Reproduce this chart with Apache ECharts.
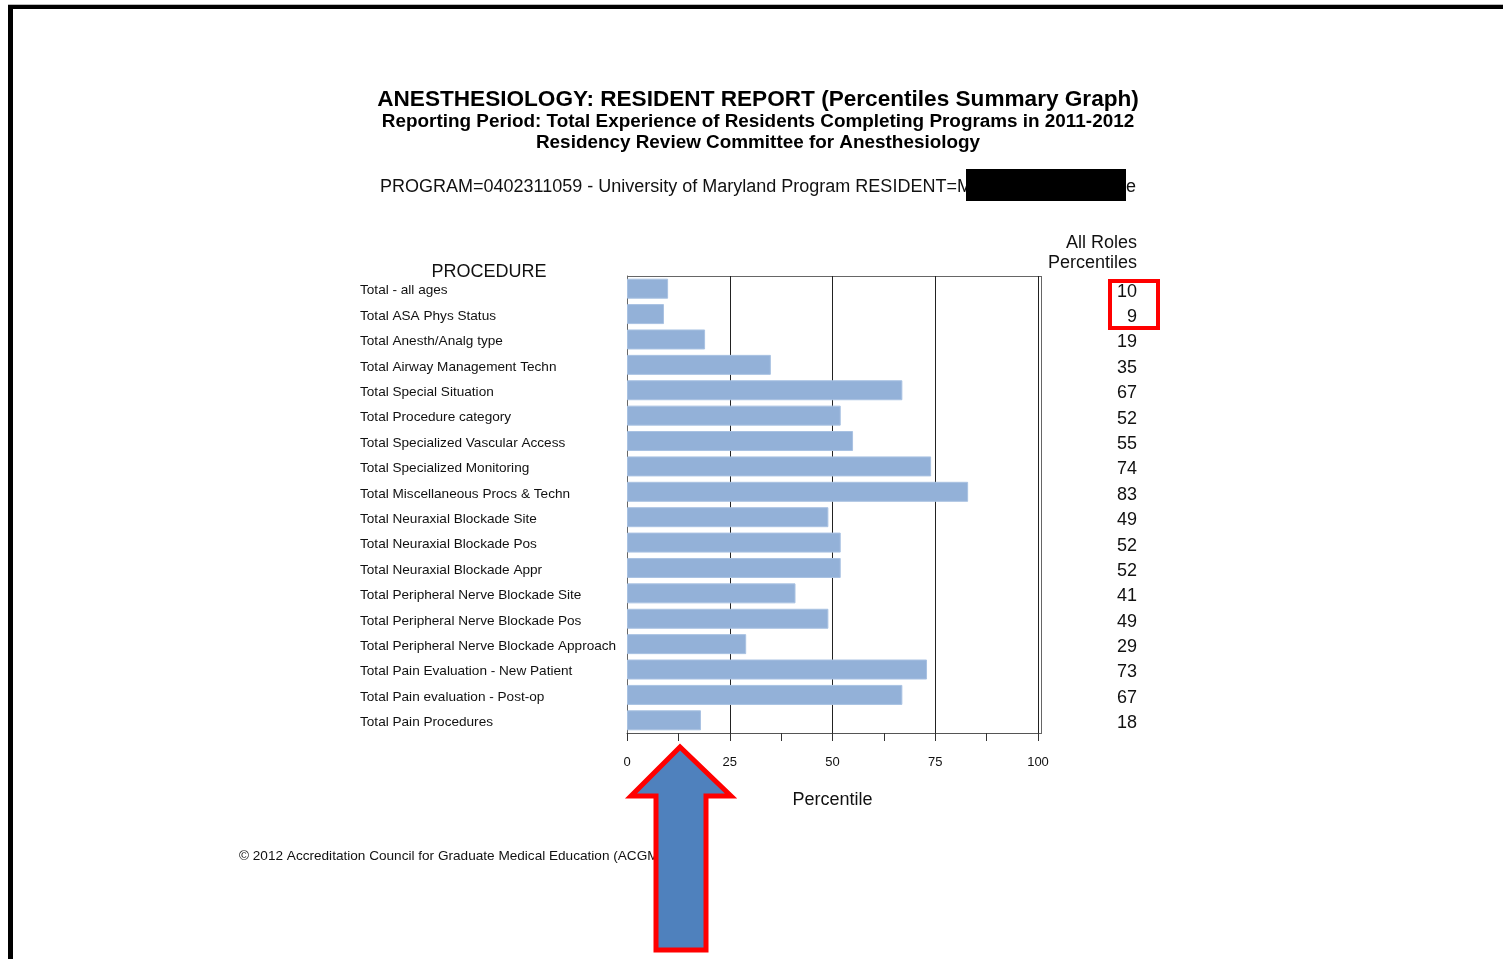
<!DOCTYPE html>
<html>
<head>
<meta charset="utf-8">
<title>Percentiles Summary Graph</title>
<script src="https://cdn.jsdelivr.net/npm/echarts@6/dist/echarts.min.js"></script>
<style>
  html, body { margin: 0; padding: 0; background: #fff; }
  #main { width: 1503px; height: 959px; }
</style>
</head>
<body>
<div id="main"></div>
<script type="text/javascript">
// procedures, top to bottom
var procedures = [
  'Total - all ages',
  'Total ASA Phys Status',
  'Total Anesth/Analg type',
  'Total Airway Management Techn',
  'Total Special Situation',
  'Total Procedure category',
  'Total Specialized Vascular Access',
  'Total Specialized Monitoring',
  'Total Miscellaneous Procs & Techn',
  'Total Neuraxial Blockade Site',
  'Total Neuraxial Blockade Pos',
  'Total Neuraxial Blockade Appr',
  'Total Peripheral Nerve Blockade Site',
  'Total Peripheral Nerve Blockade Pos',
  'Total Peripheral Nerve Blockade Approach',
  'Total Pain Evaluation - New Patient',
  'Total Pain evaluation - Post-op',
  'Total Pain Procedures'
];
// all roles percentiles
var percentiles = [10, 9, 19, 35, 67, 52, 55, 74, 83, 49, 52, 52, 41, 49, 29, 73, 67, 18];
var xTicks = [0, 25, 50, 75, 100];

var FONT = '"Liberation Sans", Arial, Helvetica, sans-serif';
var barColor = '#93b1d8';

var myChart = echarts.init(document.getElementById('main'));

// grid 0 = bars, grid 1 = procedure names, grid 2 = percentile column
var option = {
  backgroundColor: '#fff',
  animation: false,
  grid: [
    { left: 627, top: 276, width: 411, height: 457, show: false },
    { left: 627, top: 278, width: 411, height: 457, show: false },
    { left: 627, top: 279, width: 411, height: 457, show: false }
  ],
  xAxis: [{
    gridIndex: 0,
    type: 'value',
    min: 0, max: 100, interval: 25,
    name: 'Percentile',
    nameLocation: 'middle',
    nameGap: 58,
    nameTextStyle: { fontFamily: FONT, fontSize: 18, color: '#111' },
    axisLine: { show: true, lineStyle: { color: '#555', width: 1 } },
    axisTick: { show: true, length: 8, lineStyle: { color: '#333' } },
    minorTick: { show: true, splitNumber: 2, length: 8, lineStyle: { color: '#333' } },
    axisLabel: {
      margin: 23, fontFamily: FONT, fontSize: 13, color: '#111',
      formatter: function (v) { return xTicks.indexOf(v) >= 0 ? String(v) : ''; }
    },
    splitLine: { show: true, lineStyle: { color: '#222', width: 1 } }
  },
  { gridIndex: 1, type: 'value', min: 0, max: 100, show: false },
  { gridIndex: 2, type: 'value', min: 0, max: 100, show: false }],
  yAxis: [{
    gridIndex: 0,
    type: 'category',
    inverse: true,
    data: procedures,
    axisLine: { show: true, lineStyle: { color: '#666' } },
    axisTick: { show: false },
    axisLabel: { show: false }
  }, {
    gridIndex: 1,
    type: 'category',
    inverse: true,
    data: procedures,
    axisLine: { show: false },
    axisTick: { show: false },
    axisLabel: {
      align: 'left', margin: 267,
      fontFamily: FONT, fontSize: 13.6, color: '#111'
    }
  }, {
    gridIndex: 2,
    type: 'category',
    inverse: true,
    position: 'right',
    data: percentiles.map(String),
    axisLine: { show: false },
    axisTick: { show: false },
    axisLabel: {
      align: 'right', margin: 99,
      fontFamily: FONT, fontSize: 18, color: '#111'
    }
  }],
  series: [{
    type: 'bar',
    xAxisIndex: 0, yAxisIndex: 0,
    data: percentiles,
    barWidth: 20,
    itemStyle: { color: barColor, borderColor: '#a9c2e2', borderWidth: 1 },
    z: 1
  }],
  graphic: [
    // page frame
    { type: 'rect', shape: { x: 8, y: 4, width: 1495, height: 1 }, style: { fill: '#bbb' } },
    { type: 'rect', shape: { x: 8, y: 5, width: 1495, height: 4 }, style: { fill: '#000' } },
    { type: 'rect', shape: { x: 8, y: 5, width: 5, height: 954 }, style: { fill: '#000' } },
    // plot box top + double right edge
    { type: 'rect', shape: { x: 627, y: 276, width: 414, height: 1 }, style: { fill: '#666' } },
    { type: 'rect', shape: { x: 1041, y: 276, width: 1, height: 458 }, style: { fill: '#666' } },
    { type: 'rect', shape: { x: 1038, y: 733, width: 4, height: 1 }, style: { fill: '#666' } },
    // titles
    { type: 'text', x: 758, y: 100, style: { text: 'ANESTHESIOLOGY: RESIDENT REPORT (Percentiles Summary Graph)', font: 'bold 22.6px ' + FONT, fill: '#000', textAlign: 'center', textVerticalAlign: 'middle' } },
    { type: 'text', x: 758, y: 122, style: { text: 'Reporting Period: Total Experience of Residents Completing Programs in 2011-2012', font: 'bold 18.9px ' + FONT, fill: '#000', textAlign: 'center', textVerticalAlign: 'middle' } },
    { type: 'text', x: 758, y: 143, style: { text: 'Residency Review Committee for Anesthesiology', font: 'bold 18.9px ' + FONT, fill: '#000', textAlign: 'center', textVerticalAlign: 'middle' } },
    { type: 'text', x: 380, y: 187, style: { text: 'PROGRAM=0402311059 - University of Maryland Program RESIDENT=M', font: '18px ' + FONT, fill: '#111', textAlign: 'left', textVerticalAlign: 'middle' } },
    { type: 'rect', shape: { x: 966, y: 169, width: 160, height: 32 }, style: { fill: '#000' } },
    { type: 'text', x: 1126, y: 187, style: { text: 'e', font: '18px ' + FONT, fill: '#111', textAlign: 'left', textVerticalAlign: 'middle' } },
    // column headers
    { type: 'text', x: 489, y: 272, style: { text: 'PROCEDURE', font: '18px ' + FONT, fill: '#111', textAlign: 'center', textVerticalAlign: 'middle' } },
    { type: 'text', x: 1137, y: 243, style: { text: 'All Roles', font: '18px ' + FONT, fill: '#111', textAlign: 'right', textVerticalAlign: 'middle' } },
    { type: 'text', x: 1137, y: 263, style: { text: 'Percentiles', font: '18px ' + FONT, fill: '#111', textAlign: 'right', textVerticalAlign: 'middle' } },
    // footer
    { type: 'text', x: 239, y: 856, style: { text: '\u00a9 2012 Accreditation Council for Graduate Medical Education (ACGME)', font: '13.6px ' + FONT, fill: '#111', textAlign: 'left', textVerticalAlign: 'middle' } },
    // red highlight box
    { type: 'rect', shape: { x: 1110, y: 281, width: 48, height: 47 }, style: { fill: 'none', stroke: '#ff0000', lineWidth: 4 }, z: 100 },
    // arrow
    { type: 'polygon', shape: { points: [[680, 747], [631, 796], [656, 796], [656, 950], [706, 950], [706, 796], [731, 796]] },
      style: { fill: '#4f81bd', stroke: '#ff0000', lineWidth: 5, lineJoin: 'miter' }, z: 100 }
  ]
};

myChart.setOption(option);
</script>
</body>
</html>
